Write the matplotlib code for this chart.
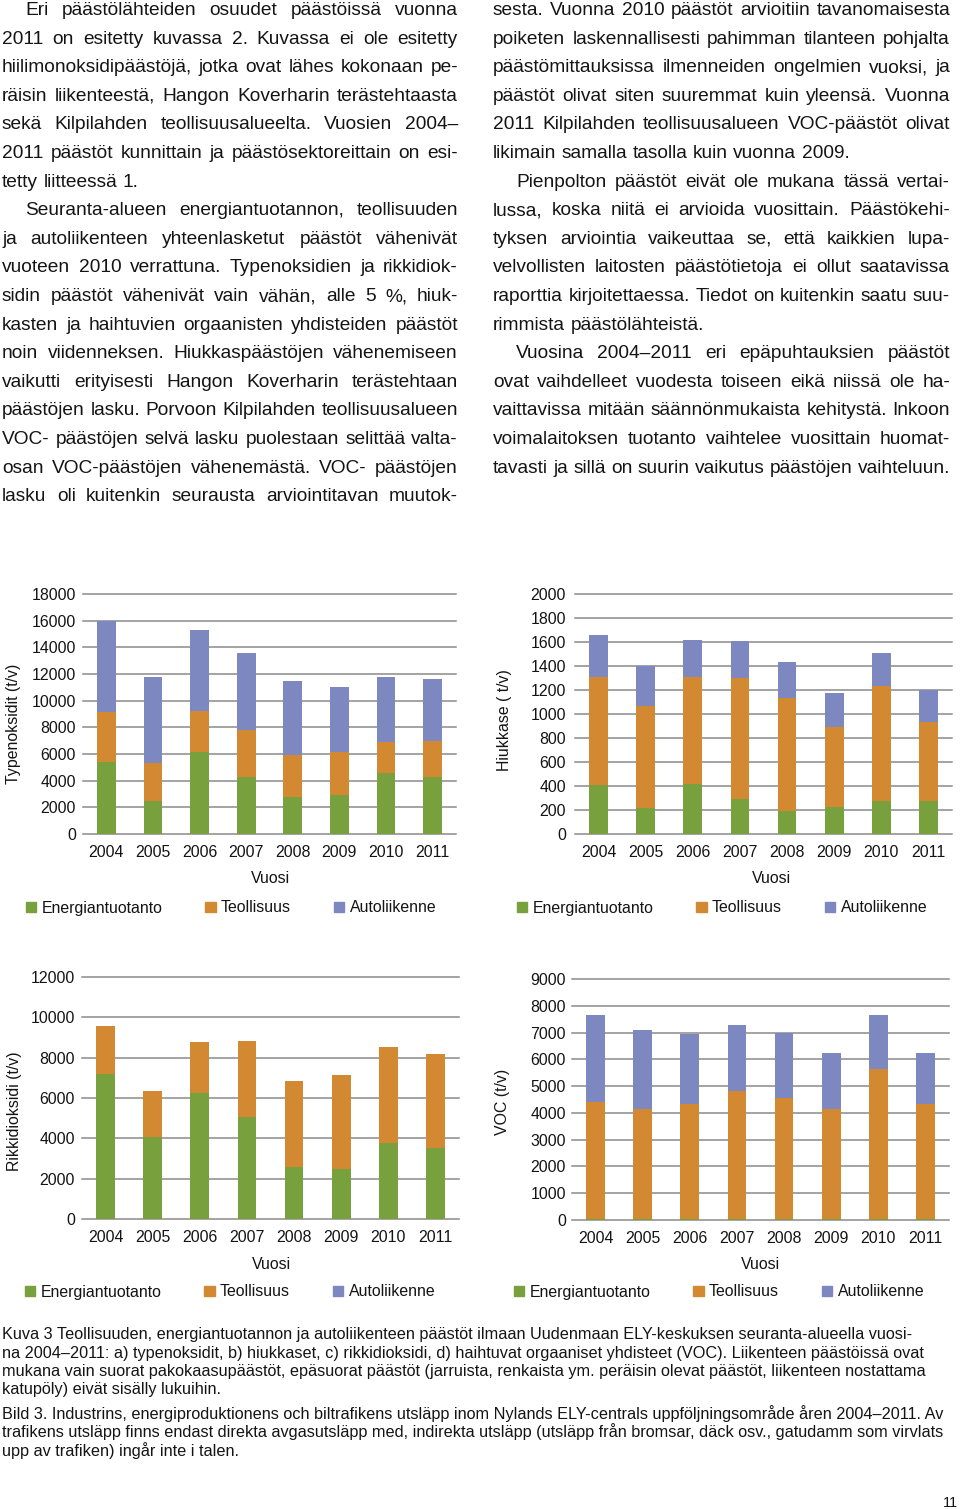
import matplotlib
matplotlib.use("Agg")
import matplotlib.pyplot as plt
from matplotlib import font_manager
from matplotlib.patches import Patch

W, H = 960, 1509

years = ["2004", "2005", "2006", "2007", "2008", "2009", "2010", "2011"]
sectors = ["Energiantuotanto", "Teollisuus", "Autoliikenne"]

nox_energy = [5400, 2500, 6150, 4300, 2750, 2950, 4600, 4300]
nox_industry = [3750, 2800, 3100, 3500, 3200, 3200, 2300, 2650]
nox_traffic = [6850, 6500, 6050, 5800, 5550, 4900, 4900, 4700]

pm_energy = [410, 215, 420, 295, 190, 225, 275, 275]
pm_industry = [900, 850, 890, 1005, 945, 665, 955, 655]
pm_traffic = [350, 335, 305, 305, 295, 285, 280, 270]

so2_energy = [7200, 4050, 6250, 5050, 2600, 2500, 3750, 3500]
so2_industry = [2350, 2300, 2550, 3800, 4250, 4650, 4800, 4700]
so2_traffic = [0, 0, 0, 0, 0, 0, 0, 0]

voc_energy = [40, 40, 40, 40, 40, 40, 40, 40]
voc_industry = [4360, 4110, 4310, 4760, 4510, 4110, 5610, 4310]
voc_traffic = [3250, 2950, 2600, 2500, 2450, 2100, 2000, 1900]

left_col = [
    "Eri päästölähteiden osuudet päästöissä vuonna",
    "2011 on esitetty kuvassa 2. Kuvassa ei ole esitetty",
    "hiilimonoksidipäästöjä, jotka ovat lähes kokonaan pe-",
    "räisin liikenteestä, Hangon Koverharin terästehtaasta",
    "sekä Kilpilahden teollisuusalueelta. Vuosien 2004–",
    "2011 päästöt kunnittain ja päästösektoreittain on esi-",
    "tetty liitteessä 1.",
    "Seuranta-alueen energiantuotannon, teollisuuden",
    "ja autoliikenteen yhteenlasketut päästöt vähenivät",
    "vuoteen 2010 verrattuna. Typenoksidien ja rikkidiok-",
    "sidin päästöt vähenivät vain vähän, alle 5 %, hiuk-",
    "kasten ja haihtuvien orgaanisten yhdisteiden päästöt",
    "noin viidenneksen.  Hiukkaspäästöjen vähenemiseen",
    "vaikutti erityisesti Hangon Koverharin terästehtaan",
    "päästöjen lasku. Porvoon Kilpilahden teollisuusalueen",
    "VOC- päästöjen selvä lasku puolestaan selittää valta-",
    "osan VOC-päästöjen vähenemästä. VOC- päästöjen",
    "lasku oli kuitenkin seurausta arviointitavan muutok-",
]
left_indent = [0, 7]
left_last = [6]

right_col = [
    "sesta. Vuonna 2010 päästöt arvioitiin tavanomaisesta",
    "poiketen laskennallisesti pahimman tilanteen pohjalta",
    "päästömittauksissa ilmenneiden ongelmien vuoksi, ja",
    "päästöt olivat siten suuremmat kuin yleensä. Vuonna",
    "2011 Kilpilahden teollisuusalueen VOC-päästöt olivat",
    "likimain samalla tasolla kuin vuonna 2009.",
    "Pienpolton päästöt eivät ole mukana tässä vertai-",
    "lussa, koska niitä ei arvioida vuosittain. Päästökehi-",
    "tyksen arviointia vaikeuttaa se, että kaikkien lupa-",
    "velvollisten laitosten päästötietoja ei ollut saatavissa",
    "raporttia kirjoitettaessa. Tiedot on kuitenkin saatu suu-",
    "rimmista päästölähteistä.",
    "Vuosina 2004–2011 eri epäpuhtauksien päästöt",
    "ovat vaihdelleet vuodesta toiseen eikä niissä ole ha-",
    "vaittavissa mitään säännönmukaista kehitystä. Inkoon",
    "voimalaitoksen tuotanto vaihtelee vuosittain huomat-",
    "tavasti ja sillä on suurin vaikutus päästöjen vaihteluun.",
]
right_indent = [6, 12]
right_last = [5, 11]

caption = [
    "Kuva 3 Teollisuuden, energiantuotannon ja autoliikenteen päästöt ilmaan Uudenmaan ELY-keskuksen seuranta-alueella vuosi-",
    "na 2004–2011: a) typenoksidit, b) hiukkaset, c) rikkidioksidi, d) haihtuvat orgaaniset yhdisteet (VOC). Liikenteen päästöissä ovat",
    "mukana vain suorat pakokaasupäästöt, epäsuorat päästöt (jarruista, renkaista ym. peräisin olevat päästöt, liikenteen nostattama",
    "katupöly) eivät sisälly lukuihin.",
    "Bild 3. Industrins, energiproduktionens och biltrafikens utsläpp inom Nylands ELY-centrals uppföljningsområde åren 2004–2011. Av",
    "trafikens utsläpp finns endast direkta avgasutsläpp med, indirekta utsläpp (utsläpp från bromsar, däck osv., gatudamm som virvlats",
    "upp av trafiken) ingår inte i talen.",
]
caption_y = [1339, 1358, 1376, 1394, 1419, 1437, 1456]

colors = ["#78A03C", "#D28932", "#7D87C0"]
txt = "#141414"
grid_c = "#8a8a8a"

plt.rcParams["font.family"] = ["Liberation Sans", "DejaVu Sans"]

try:
    font_manager.findfont("Liberation Sans Narrow", fallback_to_default=False)
    cap_family = ["Liberation Sans Narrow", "DejaVu Sans"]
except Exception:
    cap_family = ["Liberation Sans", "DejaVu Sans"]

fig = plt.figure(figsize=(W / 100, H / 100), dpi=100)
fig.patch.set_facecolor("white")
renderer = fig.canvas.get_renderer()
body_family = plt.rcParams["font.family"]


def fx(x):
    return x / W


def fy(y):
    return 1 - y / H


def word_width(word, size, family):
    t = fig.text(0, 0, word, fontsize=size, family=family)
    w = t.get_window_extent(renderer).width
    t.remove()
    return w


def justified(lines, x0, x1, y0, step, indents, lasts, size=13.8):
    space = word_width("a a", size, body_family) - word_width("aa", size, body_family)
    for i, line in enumerate(lines):
        y = y0 + i * step
        xs = x0 + (23 if i in indents else 0)
        words = line.split()
        fs = size
        widths = [word_width(w, fs, body_family) for w in words]
        avail = x1 - xs
        if i in lasts:
            gap = space
        else:
            gap = (avail - sum(widths)) / max(len(words) - 1, 1)
            if gap < space * 0.7:
                # tight line: shrink the words a little so they fit
                fs = size * (avail - space * 0.7 * (len(words) - 1)) / sum(widths)
                widths = [word_width(w, fs, body_family) for w in words]
                gap = (avail - sum(widths)) / max(len(words) - 1, 1)
        x = xs
        for w, ww in zip(words, widths):
            fig.text(fx(x), fy(y), w, fontsize=fs, color=txt, va="baseline", ha="left")
            x += ww + gap


justified(left_col, 2, 458, 15, 28.6, left_indent, left_last)
justified(right_col, 493, 950, 15, 28.6, right_indent, right_last)

# caption, size fitted to first line width
ref_w = word_width(caption[0], 10, cap_family)
cap_size = 10 * 910 / ref_w
for line, y in zip(caption, caption_y):
    fig.text(fx(2), fy(y), line, fontsize=cap_size, family=cap_family, color=txt, va="baseline")
fig.text(fx(958), fy(1507), "11", fontsize=10.5, family=cap_family, color=txt, ha="right", va="baseline")


def stacked(box, series, ymax, step, ylabel, ylab_pos, xlab_pos, leg_center, ypad):
    l, r, t, b = box
    ax = fig.add_axes([fx(l), fy(b), fx(r - l), (b - t) / H])
    xs = range(len(years))
    bottom = [0] * len(years)
    for vals, c in zip(series, colors):
        ax.bar(xs, vals, 0.4, bottom=bottom, color=c, zorder=3)
        bottom = [a + v for a, v in zip(bottom, vals)]
    ax.set_xlim(-0.5, len(years) - 0.5)
    ax.set_ylim(0, ymax)
    ax.set_yticks(range(0, ymax + 1, step))
    ax.set_xticks(list(xs))
    ax.set_xticklabels(years)
    ax.grid(axis="y", color=grid_c, lw=1.1, zorder=0)
    for s in ax.spines.values():
        s.set_visible(False)
    ax.tick_params(length=0, labelsize=11.4, colors=txt)
    ax.tick_params(axis="y", pad=ypad)
    ax.tick_params(axis="x", pad=8)
    for gl in ax.get_ygridlines():
        gl.set_clip_on(False)
    ax.set_ylabel(ylabel, fontsize=11.4, color=txt)
    ax.yaxis.set_label_coords(*ylab_pos)
    ax.set_xlabel("Vuosi", fontsize=11.4, color=txt)
    ax.xaxis.set_label_coords(*xlab_pos)
    handles = [Patch(color=c, label=s) for c, s in zip(colors, sectors)]
    fig.legend(handles=handles, loc="center", ncol=3, frameon=False,
               bbox_to_anchor=(fx(leg_center[0]), fy(leg_center[1])),
               fontsize=11.4, handlelength=0.65, handleheight=0.65,
               handletextpad=0.35, columnspacing=2.7, labelcolor=txt)
    return ax


stacked((83, 456, 594, 834), [nox_energy, nox_industry, nox_traffic], 18000, 2000,
        "Typenoksidit (t/v)", (-0.166, 0.458), (0.503, -0.155), (231, 908), 5)
stacked((575, 952, 594, 834), [pm_energy, pm_industry, pm_traffic], 2000, 200,
        "Hiukkase ( t/v)", (-0.167, 0.475), (0.522, -0.155), (722, 908), 6.5)
stacked((82, 459, 977, 1219), [so2_energy, so2_industry, so2_traffic], 12000, 2000,
        "Rikkidioksidi (t/v)", (-0.159, 0.446), (0.503, -0.155), (230, 1292), 5)
stacked((572, 949, 979, 1220), [voc_energy, voc_industry, voc_traffic], 9000, 1000,
        "VOC (t/v)", (-0.164, 0.49), (0.50, -0.155), (719, 1292), 4.5)

fig.savefig("out.png", dpi=100, facecolor="white")
